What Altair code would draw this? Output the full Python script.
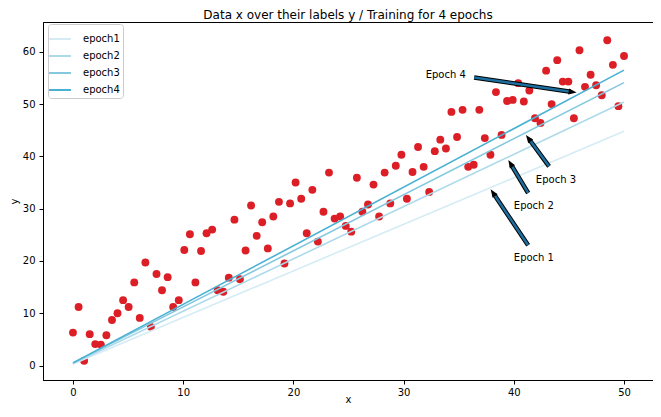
import math
import altair as alt
import pandas as pd

# ---------------- data ----------------
x_vals = [0.0, 0.51, 1.01, 1.52, 2.02, 2.53, 3.03, 3.54, 4.04, 4.55,
          5.05, 5.56, 6.06, 6.57, 7.07, 7.58, 8.08, 8.59, 9.09, 9.6,
          10.1, 10.61, 11.11, 11.62, 12.12, 12.63, 13.13, 13.64, 14.14, 14.65,
          15.15, 15.66, 16.16, 16.67, 17.17, 17.68, 18.18, 18.69, 19.19, 19.7,
          20.2, 20.71, 21.21, 21.72, 22.22, 22.73, 23.23, 23.74, 24.24, 24.75,
          25.25, 25.76, 26.26, 26.77, 27.27, 27.78, 28.28, 28.79, 29.29, 29.8,
          30.3, 30.81, 31.31, 31.82, 32.32, 32.83, 33.33, 33.84, 34.34, 34.85,
          35.35, 35.86, 36.36, 36.87, 37.37, 37.88, 38.38, 38.89, 39.39, 39.9,
          40.4, 40.91, 41.41, 41.92, 42.42, 42.93, 43.43, 43.94, 44.44, 44.95,
          45.45, 45.96, 46.46, 46.97, 47.47, 47.98, 48.48, 48.99, 49.49, 50.0]
y_vals = [6.3, 11.2, 0.9, 6.0, 4.1, 4.0, 5.8, 8.7, 10.0, 12.5,
          11.2, 15.9, 9.1, 19.7, 7.4, 17.5, 14.4, 16.9, 11.2, 12.5,
          22.1, 25.1, 15.9, 21.9, 25.3, 26.0, 14.4, 14.1, 16.8, 27.9,
          16.5, 22.0, 30.6, 24.8, 27.4, 22.4, 28.5, 31.3, 19.5, 31.0,
          35.0, 31.9, 25.3, 33.6, 23.7, 29.4, 36.9, 28.1, 28.5, 26.7,
          25.6, 35.9, 29.4, 30.8, 34.6, 28.5, 36.9, 31.0, 38.2, 40.3,
          31.9, 37.0, 41.8, 38.0, 33.2, 41.0, 43.2, 41.5, 48.5, 43.7,
          48.9, 38.0, 38.4, 48.9, 43.5, 40.3, 52.3, 44.1, 50.6, 50.8,
          54.0, 50.5, 52.6, 47.3, 46.4, 56.4, 50.0, 58.4, 54.3, 54.3,
          47.3, 60.3, 53.3, 55.6, 53.6, 51.7, 62.2, 57.5, 49.6, 59.2]

epochs = ["epoch1", "epoch2", "epoch3", "epoch4"]
line_x = [0, 50]
line_start = [0.3, 0.4, 0.5, 0.5]
line_end = [44.8, 50.4, 54.1, 56.5]
line_colors = ["#d5ecf5", "#acdaea", "#83c8df", "#4ab1d3"]

ann_labels = ["Epoch 1", "Epoch 2", "Epoch 3", "Epoch 4"]
ann_text_x = [40, 40, 42, 32]
ann_text_y = [20, 30, 35, 55]
ann_tail_x = [41.3, 41.3, 43.2, 36.4]
ann_tail_y = [23.0, 33.0, 38.1, 55.1]
ann_tip_x = [37.9, 39.5, 41.1, 45.7]
ann_tip_y = [33.7, 39.3, 44.1, 52.2]

# ---------------- layout ----------------
W, H = 610, 358
XDOM = [-2.72, 52.63]
YDOM = [-2.77, 65.7]
kx = W / (XDOM[1] - XDOM[0])
ky = H / (YDOM[1] - YDOM[0])
FONT = "DejaVu Sans"

pts = pd.DataFrame({"x": x_vals, "y": y_vals})

rows = []
for e, s, t in zip(epochs, line_start, line_end):
    rows.append({"x": line_x[0], "y": s, "series": e})
    rows.append({"x": line_x[1], "y": t, "series": e})
lines = pd.DataFrame(rows)

arows = []
for lab, tx, ty, ax0, ay0, bx, by in zip(ann_labels, ann_text_x, ann_text_y,
                                        ann_tail_x, ann_tail_y, ann_tip_x, ann_tip_y):
    dxp = (bx - ax0) * kx
    dyp = -(by - ay0) * ky
    L = math.hypot(dxp, dyp)
    ang = math.degrees(math.atan2(dxp, -dyp)) % 360
    back = 6.0
    ex = bx - (dxp / L) * back / kx
    ey = by + (dyp / L) * back / ky
    arows.append({"label": lab, "tx": tx, "ty": ty, "ax": ax0, "ay": ay0,
                  "bx": bx, "by": by, "ex": ex, "ey": ey, "angle": ang})
ann = pd.DataFrame(arows)

xs = alt.Scale(domain=XDOM, nice=False, zero=False)
ys = alt.Scale(domain=YDOM, nice=False, zero=False)

xaxis = alt.Axis(values=[0, 10, 20, 30, 40, 50], title="x", grid=False,
                 titleY=22, titleBaseline="alphabetic")
yaxis = alt.Axis(values=[0, 10, 20, 30, 40, 50, 60], title="y", grid=False,
                 titleX=-26, titleY=H / 2, titleBaseline="alphabetic", titleAlign="center")

points = alt.Chart(pts).mark_circle(size=62, opacity=1, color="#dc1f26").encode(
    x=alt.X("x:Q", scale=xs, axis=xaxis),
    y=alt.Y("y:Q", scale=ys, axis=yaxis),
)

line_layer = alt.Chart(lines).mark_line(strokeWidth=1.6).encode(
    x=alt.X("x:Q", scale=xs),
    y=alt.Y("y:Q", scale=ys),
    color=alt.Color("series:N",
                    scale=alt.Scale(domain=epochs, range=line_colors),
                    legend=alt.Legend(title=None, orient="none", legendX=5, legendY=2,
                                      symbolType="stroke", symbolSize=480,
                                      symbolStrokeWidth=2, symbolOffset=-3,
                                      labelFontSize=10,
                                      labelFont=FONT, labelColor="#000000",
                                      labelOffset=11, rowPadding=-1, padding=3,
                                      strokeColor="#cccccc",
                                      fillColor="rgba(255,255,255,0.8)",
                                      cornerRadius=3)),
)

shaft_out = alt.Chart(ann).mark_rule(color="#000000", strokeWidth=4.5).encode(
    x=alt.X("ax:Q", scale=xs), y=alt.Y("ay:Q", scale=ys),
    x2="ex:Q", y2="ey:Q")
shaft_in = alt.Chart(ann).mark_rule(color="#1b6e9e", strokeWidth=2.5).encode(
    x=alt.X("ax:Q", scale=xs), y=alt.Y("ay:Q", scale=ys),
    x2="ex:Q", y2="ey:Q")
heads = alt.Chart(ann).mark_point(shape="M0,0L-0.75,2L0.75,2Z", filled=True,
                                  color="#000000", opacity=1, size=64).encode(
    x=alt.X("bx:Q", scale=xs), y=alt.Y("by:Q", scale=ys),
    angle=alt.Angle("angle:Q", scale=None))
texts = alt.Chart(ann).mark_text(align="left", baseline="alphabetic", fontSize=10,
                                 font=FONT, color="#000000").encode(
    x=alt.X("tx:Q", scale=xs), y=alt.Y("ty:Q", scale=ys), text="label:N")

chart = alt.layer(points, line_layer, shaft_out, shaft_in, heads, texts).properties(
    width=W, height=H,
    title=alt.TitleParams("Data x over their labels y / Training for 4 epochs",
                          fontSize=12, font=FONT, fontWeight="normal", color="#000000",
                          anchor="middle", frame="group", baseline="alphabetic",
                          offset=3, dy=11.5),
    autosize=alt.AutoSizeParams(type="none"),
    padding={"left": 35, "top": 14, "right": 0, "bottom": 23},
).configure_view(stroke="#000000", strokeWidth=1).configure_axis(
    domainColor="#000000", tickColor="#000000", tickSize=4, labelFontSize=10,
    labelFont=FONT, labelColor="#000000", titleFont=FONT, titleFontSize=10,
    titleFontWeight="normal", titleColor="#000000", labelPadding=3,
).configure_axisY(labelPadding=4)

chart.save("out.html", embed_options={"renderer": "svg", "actions": False})
